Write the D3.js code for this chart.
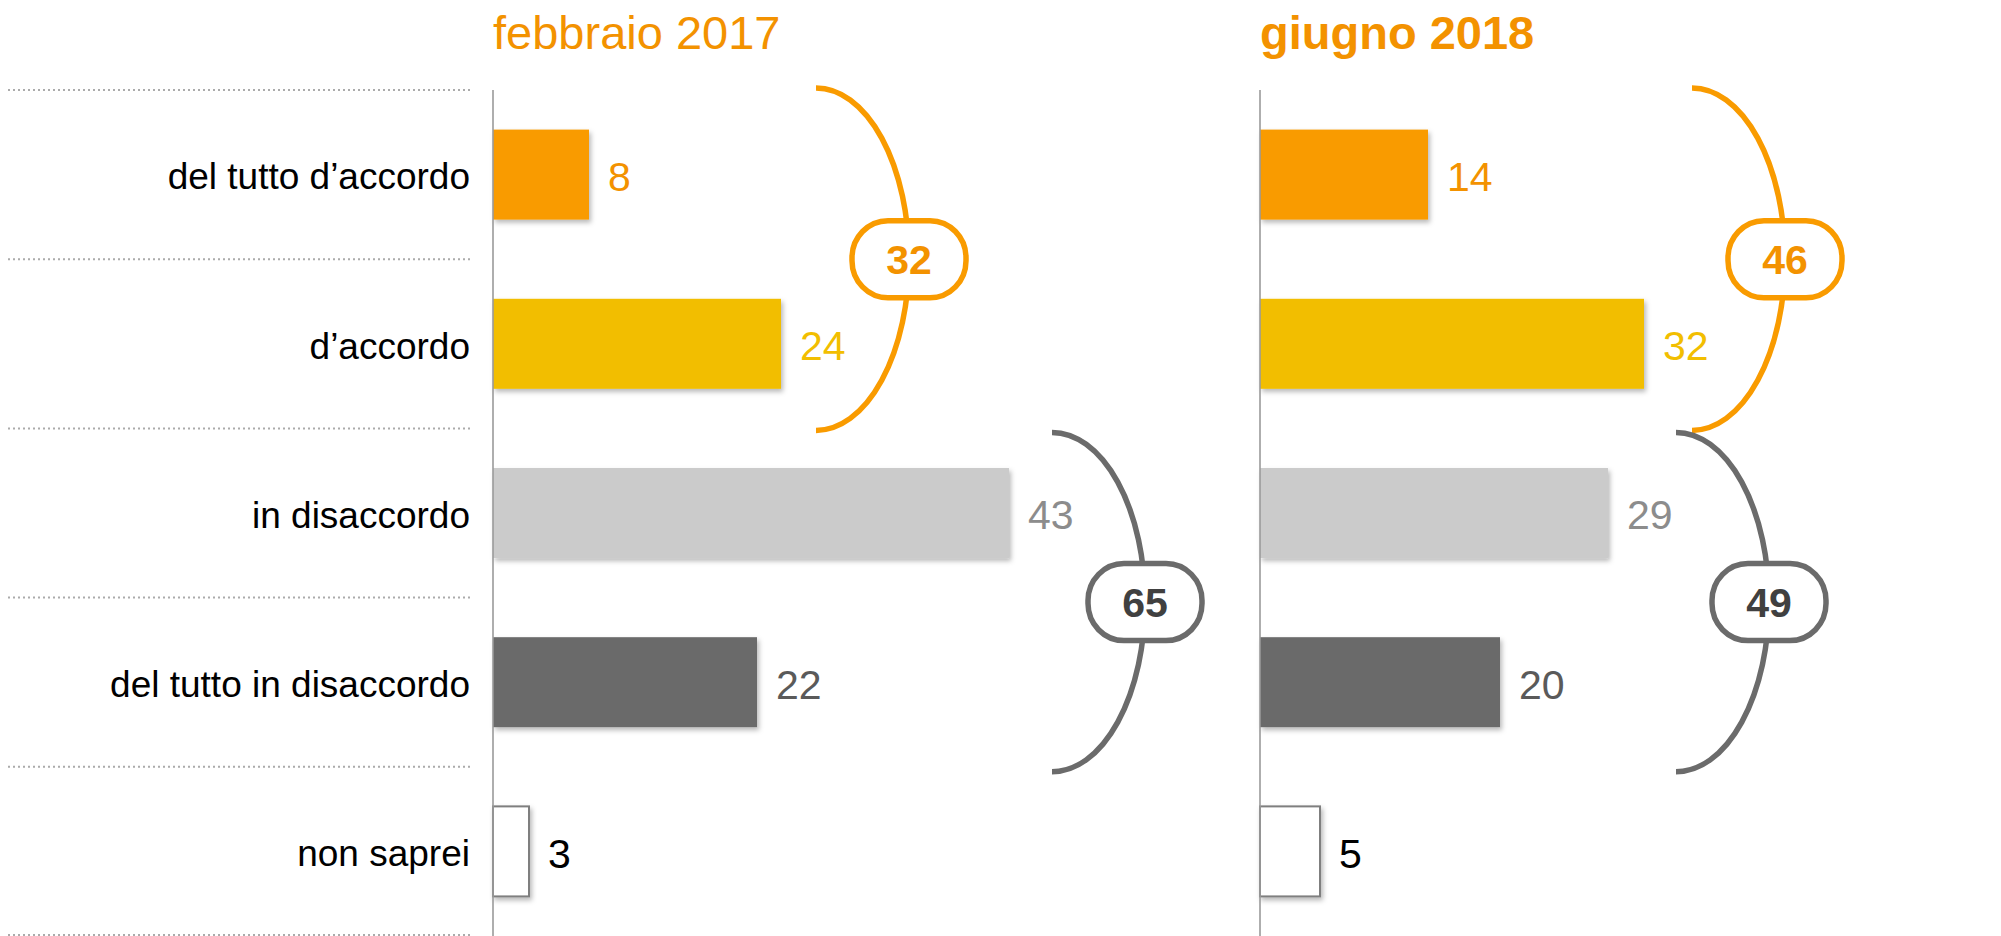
<!DOCTYPE html>
<html>
<head>
<meta charset="utf-8">
<script src="https://cdn.jsdelivr.net/npm/d3@7"></script>
<style>
  body { margin: 0; background: #fff; }
  svg { display: block; font-family: "Liberation Sans", Arial, sans-serif; }
</style>
</head>
<body>
<script>
const categories = ["del tutto d’accordo", "d’accordo", "in disaccordo", "del tutto in disaccordo", "non saprei"];
const periods = ["febbraio 2017", "giugno 2018"];
const values2017 = [8, 24, 43, 22, 3];
const values2018 = [14, 32, 29, 20, 5];
const groups = [
  { name: "accordo", members: [0, 1] },
  { name: "disaccordo", members: [2, 3] }
];

const barColors = ["#F99B00", "#F2BE00", "#CBCBCB", "#6B6B6B", "#FFFFFF"];
const labelColors = ["#F39200", "#F2BE00", "#8C8C8C", "#5A5A5A", "#000000"];
const groupColors = ["#F99B00", "#6B6B6B"];
const groupTextColors = ["#F39200", "#404040"];

const width = 2001;
const height = 936;

// per-panel layout: axis position, title weight, bracket offsets from axis (px)
const panels = [
  { title: periods[0], values: values2017, x0: 493, bold: false, bracketX: [323, 559] },
  { title: periods[1], values: values2018, x0: 1260, bold: true, bracketX: [432, 416] }
];

const svg = d3.select("body").append("svg")
  .attr("width", width)
  .attr("height", height);

const defs = svg.append("defs");
const shadow = defs.append("filter")
  .attr("id", "shadow")
  .attr("x", "-10%").attr("y", "-10%")
  .attr("width", "130%").attr("height", "140%");
shadow.append("feDropShadow")
  .attr("dx", 2)
  .attr("dy", 3)
  .attr("stdDeviation", 2.5)
  .attr("flood-color", "#000")
  .attr("flood-opacity", 0.28);

const y = d3.scaleBand()
  .domain(categories)
  .range([90, 936])
  .paddingInner(0.468)
  .paddingOuter(0.234);

const x = d3.scaleLinear()
  .domain([0, 50])
  .range([0, 600]);

const step = y.step();
const gridY = categories.map(c => y(c) - step * y.paddingInner() / 2).concat([935]);

// dotted separators on the left
svg.append("g")
  .selectAll("line")
  .data(gridY)
  .enter()
  .append("line")
  .attr("x1", 8)
  .attr("x2", 470)
  .attr("y1", d => d)
  .attr("y2", d => d)
  .attr("stroke", "#ababab")
  .attr("stroke-width", 2)
  .attr("stroke-dasharray", "2,3");

// category labels
svg.append("g")
  .selectAll("text")
  .data(categories)
  .enter()
  .append("text")
  .attr("x", 470)
  .attr("y", d => y(d) + y.bandwidth() / 2)
  .attr("dy", "0.4em")
  .attr("text-anchor", "end")
  .attr("font-size", 37)
  .attr("fill", "#000")
  .text(d => d);

panels.forEach(p => {
  const g = svg.append("g").attr("transform", `translate(${p.x0},0)`);

  g.append("text")
    .attr("x", 0)
    .attr("y", 49)
    .attr("font-size", 47)
    .attr("font-weight", p.bold ? "bold" : "normal")
    .attr("fill", "#F39200")
    .text(p.title);

  g.selectAll(".bar")
    .data(p.values)
    .enter()
    .append("rect")
    .attr("class", "bar")
    .attr("x", 0)
    .attr("y", (d, i) => y(categories[i]))
    .attr("width", d => x(d))
    .attr("height", y.bandwidth())
    .attr("fill", (d, i) => barColors[i])
    .attr("stroke", (d, i) => i === 4 ? "#7f7f7f" : "none")
    .attr("stroke-width", 2)
    .attr("filter", "url(#shadow)");

  g.selectAll(".value")
    .data(p.values)
    .enter()
    .append("text")
    .attr("class", "value")
    .attr("x", d => x(d) + 19)
    .attr("y", (d, i) => y(categories[i]) + y.bandwidth() / 2)
    .attr("dy", "0.4em")
    .attr("font-size", 41)
    .attr("fill", (d, i) => labelColors[i])
    .text(d => d);

  g.append("line")
    .attr("x1", 0)
    .attr("x2", 0)
    .attr("y1", 90)
    .attr("y2", 936)
    .attr("stroke", "#9a9a9a")
    .attr("stroke-width", 1.6);

  // brackets with totals
  groups.forEach((grp, gi) => {
    const first = grp.members[0];
    const last = grp.members[grp.members.length - 1];
    const top = gridY[first] + (gi === 0 ? -2 : 4);
    const bottom = gridY[last + 1] + (gi === 0 ? 2 : 5);
    const sx = p.bracketX[gi];
    const depth = 93;
    const cy = (top + bottom) / 2;
    const total = d3.sum(grp.members, i => p.values[i]);

    g.append("path")
      .attr("d", `M${sx},${top} A${depth},${(bottom - top) / 2} 0 0 1 ${sx},${bottom}`)
      .attr("fill", "none")
      .attr("stroke", groupColors[gi])
      .attr("stroke-width", 5.5);

    const pw = 114, ph = 77;
    g.append("rect")
      .attr("x", sx + depth - pw / 2)
      .attr("y", cy - ph / 2)
      .attr("width", pw)
      .attr("height", ph)
      .attr("rx", 36)
      .attr("ry", 37)
      .attr("fill", "#fff")
      .attr("stroke", groupColors[gi])
      .attr("stroke-width", 5.5);

    g.append("text")
      .attr("x", sx + depth)
      .attr("y", cy)
      .attr("dy", "0.36em")
      .attr("text-anchor", "middle")
      .attr("font-size", 41)
      .attr("font-weight", "bold")
      .attr("fill", groupTextColors[gi])
      .text(total);
  });
});
</script>
</body>
</html>
